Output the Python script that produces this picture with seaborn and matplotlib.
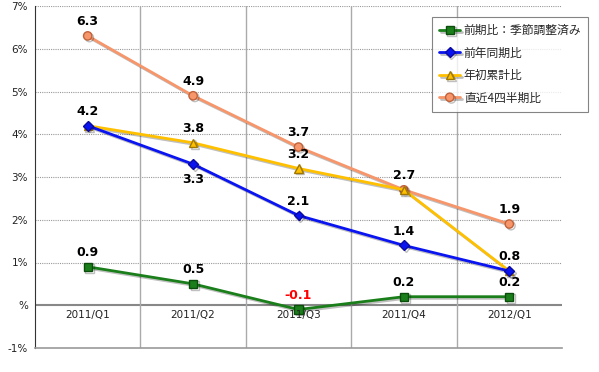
import pandas as pd
import numpy as np
import matplotlib
matplotlib.use("Agg")
import matplotlib.pyplot as plt
import matplotlib.patheffects as pe
import seaborn as sns

# =========================
# DATA
# =========================
quarters = ["2011/Q1", "2011/Q2", "2011/Q3", "2011/Q4", "2012/Q1"]
s_qoq = [0.9, 0.5, -0.1, 0.2, 0.2]      # 前期比：季節調整済み
s_yoy = [4.2, 3.3, 2.1, 1.4, 0.8]       # 前年同期比
s_ytd = [4.2, 3.8, 3.2, 2.7, 0.8]       # 年初累計比
s_l4q = [6.3, 4.9, 3.7, 2.7, 1.9]       # 直近4四半期比
names = ["前期比：季節調整済み", "前年同期比", "年初累計比", "直近4四半期比"]

df = pd.DataFrame({
    "quarter": quarters * 4,
    "series": np.repeat(names, len(quarters)),
    "value": s_qoq + s_yoy + s_ytd + s_l4q,
})

# =========================
# STYLE
# =========================
sns.set_style("white")
plt.rcParams["font.family"] = ["Noto Sans CJK JP", "DejaVu Sans"]

palette = {names[0]: "#1a7f1a", names[1]: "#0a14f0", names[2]: "#ffc000", names[3]: "#f7966b"}
edge = {names[0]: "#0b4d0b", names[1]: "#0a0aa0", names[2]: "#a07800", names[3]: "#c0623a"}
markers = {names[0]: "s", names[1]: "D", names[2]: "^", names[3]: "o"}
shadow = [pe.SimpleLineShadow(offset=(1.2, -1.2), alpha=0.25), pe.Normal()]

fig = plt.figure(figsize=(5.99, 3.72), dpi=100)
ax = fig.add_axes([35 / 599, 1 - 348 / 372, 527 / 599, 342 / 372])

for name in [names[3], names[2], names[1], names[0]]:
    sub = df[df["series"] == name]
    sns.lineplot(data=sub, x="quarter", y="value", ax=ax, color=palette[name],
                 marker=markers[name], markersize=6 if name != names[1] else 5,
                 markeredgecolor=edge[name], markerfacecolor=palette[name],
                 markeredgewidth=1, linewidth=2, label=name, sort=False,
                 path_effects=shadow)

# =========================
# AXES
# =========================
ax.set_xlim(-0.5, len(quarters) - 0.5)
ax.set_ylim(-1, 7)
ax.set_yticks(range(-1, 8))
ax.set_yticklabels([f"{v}%" if v != 0 else "%" for v in range(-1, 8)], fontsize=7.5,
                   color="#222222", family="DejaVu Sans")
ax.set_xticks([])
ax.set_xlabel("")
ax.set_ylabel("")
ax.tick_params(axis="y", length=3, width=0.8, color="#444444", direction="out", pad=2)

for v in range(1, 8):
    ax.axhline(v, color="#999999", linestyle=(0, (1, 1)), linewidth=0.8, zorder=0)
ax.axhline(0, color="#888888", linewidth=1.5, zorder=0)
for b in np.arange(0.5, len(quarters) - 0.5, 1):
    ax.axvline(b, color="#aaaaaa", linewidth=1, zorder=0)

for side in ["top", "right"]:
    ax.spines[side].set_visible(False)
ax.spines["left"].set_color("#333333")
ax.spines["bottom"].set_color("#999999")
ax.spines["bottom"].set_linewidth(1.2)

for i, q in enumerate(quarters):
    ax.text(i, -0.12, q, ha="center", va="top", fontsize=7.5, color="#222222",
            family="DejaVu Sans")

# =========================
# DATA LABELS
# =========================
def lab(i, v, off=0.18, color="black", va="bottom"):
    ax.text(i, v + off, f"{v:.1f}", ha="center", va=va, fontsize=9,
            fontweight="bold", color=color, family="DejaVu Sans")

for i, v in enumerate(s_l4q):
    lab(i, v)
for i, v in enumerate(s_qoq):
    lab(i, v, color="red" if v < 0 else "black")
lab(0, s_yoy[0])
lab(1, s_ytd[1])
lab(1, s_yoy[1], off=-0.2, va="top")
lab(2, s_ytd[2])
lab(2, s_yoy[2])
lab(3, s_yoy[3])
lab(4, s_yoy[4])

# =========================
# LEGEND
# =========================
handles, labels = ax.get_legend_handles_labels()
order = [labels.index(n) for n in names]
leg = ax.legend([handles[k] for k in order], [labels[k] for k in order],
                loc="upper left", bbox_to_anchor=(432 / 599, 1 - 17 / 372),
                bbox_transform=fig.transFigure, fontsize=8.5, frameon=True,
                fancybox=False, edgecolor="#666666", handlelength=1.8,
                borderpad=0.6, labelspacing=0.8, handletextpad=0.3,
                borderaxespad=0)
leg.get_frame().set_linewidth(0.8)

fig.savefig("out.png", dpi=100)
